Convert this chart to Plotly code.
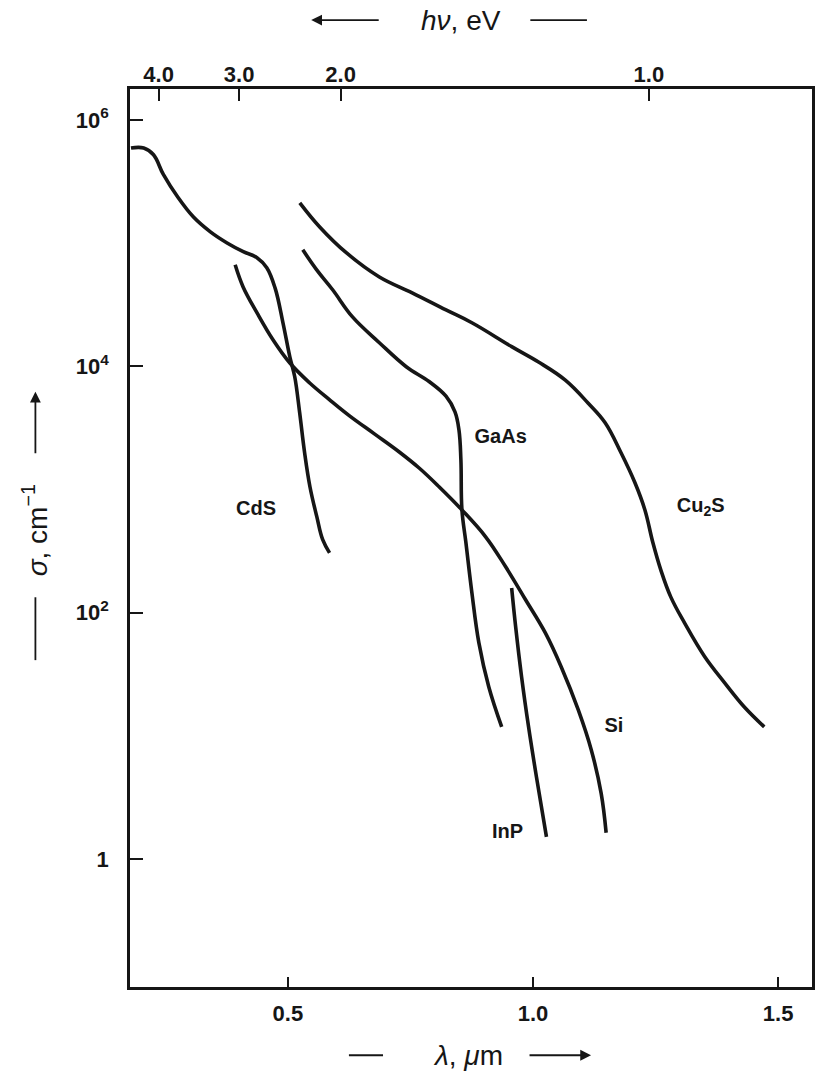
import plotly.graph_objects as go

# Absorption coefficient sigma (cm^-1) versus wavelength lambda (um)
cds_wl = [0.180, 0.206, 0.226, 0.246, 0.275, 0.307, 0.342, 0.376, 0.409, 0.437, 0.457,
          0.474, 0.490, 0.504, 0.514, 0.524, 0.534, 0.545, 0.559, 0.571, 0.585]
cds_sigma = [5.9e5, 5.9e5, 5.2e5, 3.6e5, 2.37e5, 1.63e5, 1.23e5, 1.0e5, 8.5e4, 7.6e4, 6.3e4,
             4.3e4, 2.25e4, 1.19e4, 8.2e3, 4.2e3, 2.0e3, 1.05e3, 6.0e2, 3.9e2, 3.05e2]

si_wl = [0.3925, 0.4087, 0.4371, 0.4696, 0.5041, 0.5446, 0.5852, 0.6258, 0.6765, 0.7272,
         0.7677, 0.8083, 0.8550, 0.9037, 0.9442, 0.9848, 1.0254, 1.0578, 1.0923, 1.1187,
         1.1390, 1.1491]
si_sigma = [6.65e4, 4.4e4, 2.71e4, 1.64e4, 1.06e4, 7.3e3, 5.33e3, 3.95e3, 2.82e3, 2.01e3,
            1.49e3, 1.05e3, 6.8e2, 4.1e2, 2.35e2, 1.27e2, 68, 36, 16.2, 7.7, 3.4, 1.63]

gaas_wl = [0.5304, 0.5588, 0.5913, 0.6318, 0.6866, 0.7414, 0.7880, 0.8225, 0.8408, 0.8489,
           0.8529, 0.8550, 0.8631, 0.8753, 0.8895, 0.9097, 0.9361]
gaas_sigma = [8.8e4, 6.05e4, 4.17e4, 2.51e4, 1.55e4, 9.9e3, 7.5e3, 5.7e3, 4.25e3, 3.04e3,
              1.73e3, 6.8e2, 3.7e2, 1.45e2, 57, 25, 11.8]

inp_wl = [0.9564, 0.9645, 0.9767, 0.9909, 1.0071, 1.0274]
inp_sigma = [158, 77, 30, 11.8, 4.6, 1.51]

cu2s_wl = [0.5243, 0.5649, 0.6197, 0.6866, 0.7535, 0.8225, 0.8753, 0.9564, 1.0112, 1.0659,
           1.1126, 1.1471, 1.1795, 1.2079, 1.2282, 1.2444, 1.2606, 1.2809, 1.3093, 1.3499,
           1.3905, 1.4310, 1.4716]
cu2s_sigma = [2.12e5, 1.35e5, 8.3e4, 5.3e4, 3.94e4, 2.86e4, 2.25e4, 1.44e4, 1.08e4, 7.7e3,
              5.0e3, 3.47e3, 1.98e3, 1.13e3, 6.8e2, 3.7e2, 2.22e2, 1.34e2, 82, 44, 27, 17.1, 11.8]

curve_names = ["CdS", "Si", "GaAs", "InP", "Cu<sub>2</sub>S"]
curve_wl = [cds_wl, si_wl, gaas_wl, inp_wl, cu2s_wl]
curve_sigma = [cds_sigma, si_sigma, gaas_sigma, inp_sigma, cu2s_sigma]

# Curve label anchor points (lambda, sigma)
label_wl = [0.435, 1.165, 0.934, 0.948, 1.342]
label_sigma = [6.8e2, 11.8, 2.6e3, 1.63, 7.2e2]

# Axis ticks
x_ticks = [0.5, 1.0, 1.5]
x_ticktext = ["0.5", "1.0", "1.5"]
y_ticks = [1, 1e2, 1e4, 1e6]
y_ticktext = ["1", "10<sup>2</sup>", "10<sup>4</sup>", "10<sup>6</sup>"]
# Photon-energy scale along the top edge
top_tick_wl = [0.2363, 0.4006, 0.6075, 1.2363]
top_ticktext = ["4.0", "3.0", "2.0", "1.0"]

INK = "#161616"
FONT = "Liberation Sans, Arial, sans-serif"

fig = go.Figure()
for name, wl, sg in zip(curve_names, curve_wl, curve_sigma):
    fig.add_trace(go.Scatter(
        x=wl, y=sg, mode="lines", name=name,
        line=dict(color=INK, width=3.6, shape="spline", smoothing=1.1),
        hoverinfo="skip", showlegend=False,
    ))

fig.add_trace(go.Scatter(
    x=label_wl, y=label_sigma, mode="text", text=curve_names,
    textfont=dict(family=FONT, size=20, color=INK, weight="bold"),
    xaxis="x2", yaxis="y", hoverinfo="skip", showlegend=False,
))

tick_font = dict(family=FONT, size=22, color=INK, weight="bold")
x_range = [0.178, 1.569]
fig.update_layout(
    width=817, height=1082,
    margin=dict(l=130, r=2, t=89, b=95),
    paper_bgcolor="white", plot_bgcolor="white",
    font=dict(family=FONT, color=INK),
    xaxis=dict(
        range=x_range, tickvals=x_ticks, ticktext=x_ticktext,
        ticks="inside", ticklen=10, tickwidth=2, tickcolor=INK,
        showline=True, mirror=True, linewidth=2.8, linecolor=INK,
        showgrid=False, zeroline=False,
        tickfont=tick_font, ticklabelstandoff=5,
    ),
    xaxis2=dict(
        range=x_range, overlaying="x", side="top", anchor="y",
        tickvals=top_tick_wl, ticktext=top_ticktext,
        ticks="inside", ticklen=12, tickwidth=2, tickcolor=INK,
        showline=False, showgrid=False, zeroline=False,
        tickfont=tick_font, ticklabelstandoff=2,
    ),
    yaxis=dict(
        type="log", range=[-1.04, 6.25], tickvals=y_ticks, ticktext=y_ticktext,
        ticks="inside", ticklen=13, tickwidth=2, tickcolor=INK,
        showline=True, mirror=True, linewidth=2.8, linecolor=INK,
        showgrid=False, zeroline=False,
        tickfont=tick_font, ticklabelstandoff=14,
    ),
)

# Axis titles with their direction dashes and arrows
title_font = dict(family=FONT, size=28, color=INK)
bottom_y, top_y, left_x = -0.076, 1.0768, -0.1387
fig.add_annotation(xref="paper", yref="paper", x=0.496, y=bottom_y,
                   xanchor="center", yanchor="middle",
                   text="<i>λ</i>, <i>μ</i>m", showarrow=False, font=title_font)
fig.add_annotation(xref="paper", yref="paper", x=0.485, y=top_y,
                   xanchor="center", yanchor="middle",
                   text="<i>hν</i>, eV", showarrow=False, font=title_font)
fig.add_annotation(xref="paper", yref="paper", x=left_x, y=0.509,
                   xanchor="center", yanchor="middle",
                   text="<i>σ</i>, cm<sup>−1</sup>", showarrow=False, textangle=-90,
                   font=title_font)

dash = dict(color=INK, width=1.8)
fig.add_shape(type="line", xref="paper", yref="paper", x0=0.321, x1=0.371,
              y0=bottom_y, y1=bottom_y, line=dash)
fig.add_shape(type="line", xref="paper", yref="paper", x0=0.587, x1=0.670,
              y0=top_y, y1=top_y, line=dash)
fig.add_shape(type="line", xref="paper", yref="paper", x0=left_x, x1=left_x,
              y0=0.364, y1=0.434, line=dash)

arrow = dict(showarrow=True, arrowhead=2, arrowsize=1.2, arrowwidth=1.8,
             arrowcolor=INK, text="", xref="paper", yref="paper")
fig.add_annotation(x=0.676, y=bottom_y, ax=-63, ay=0, **arrow)
fig.add_annotation(x=0.2657, y=top_y, ax=69, ay=0, **arrow)
fig.add_annotation(x=left_x, y=0.663, ax=0, ay=63, **arrow)

fig.write_html("out.html")
